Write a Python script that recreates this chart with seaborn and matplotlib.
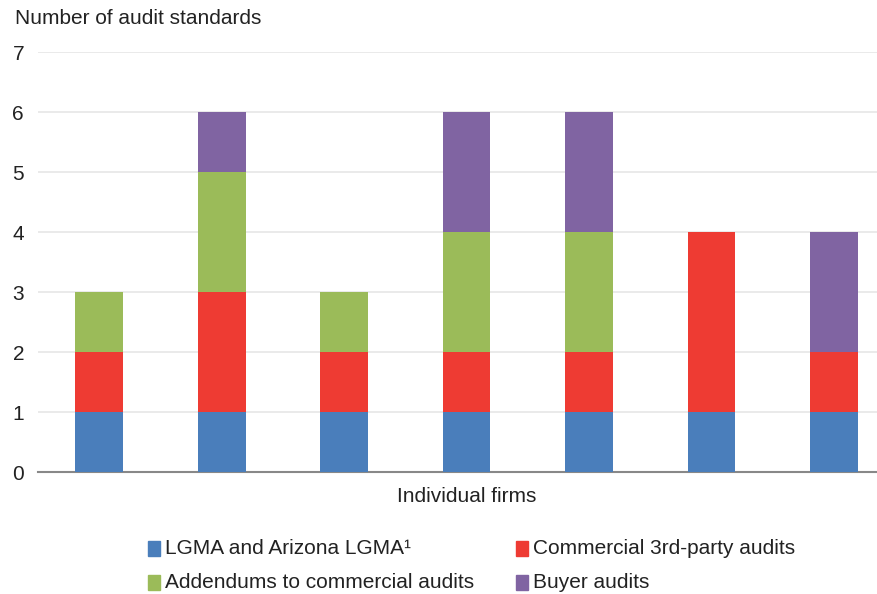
import matplotlib
matplotlib.use("Agg")
import matplotlib.pyplot as plt
import seaborn as sns
import numpy as np
import pandas as pd
from matplotlib.patches import Rectangle

firms = ["Firm 1", "Firm 2", "Firm 3", "Firm 4", "Firm 5", "Firm 6", "Firm 7"]
lgma = [1, 1, 1, 1, 1, 1, 1]
commercial = [1, 2, 1, 1, 1, 3, 1]
addendums = [1, 2, 1, 2, 2, 0, 0]
buyer = [0, 1, 0, 2, 2, 0, 2]
series_names = ["LGMA and Arizona LGMA\u00b9", "Commercial 3rd-party audits",
                "Addendums to commercial audits", "Buyer audits"]
colors = ["#4a7ebb", "#ee3b33", "#9bbb59", "#8064a2"]
yticks = [0, 1, 2, 3, 4, 5, 6, 7]

sns.set_theme(style="white")
plt.rcParams["font.family"] = ["Liberation Sans", "DejaVu Sans"]

FS = 15
TC = "#222222"

fig = plt.figure(figsize=(8.78, 5.94), dpi=100)
ax = fig.add_axes([38/878, 122/594, 1 - 38/878, (472-52)/594])

data = [lgma, commercial, addendums, buyer]
cums = np.cumsum(np.array(data), axis=0)
for i in range(3, -1, -1):
    df = pd.DataFrame({"firm": firms, "val": cums[i]})
    sns.barplot(data=df, x="firm", y="val", color=colors[i], width=0.39,
                saturation=1, ax=ax, zorder=3, linewidth=0)

ax.set_ylim(0, 7)
ax.set_xlim(-0.5, 6.36)
ax.set_yticks(yticks)
ax.set_yticklabels([str(t) for t in yticks], fontsize=FS, color=TC)
ax.set_xticks([])
ax.set_xlabel("")
ax.set_ylabel("")
ax.grid(axis="y", color="#e6e6e6", linewidth=1.2, zorder=0)
for s in ["top", "right", "left"]:
    ax.spines[s].set_visible(False)
ax.spines["bottom"].set_color("#888888")
ax.spines["bottom"].set_linewidth(1.5)
ax.tick_params(axis="y", length=0, pad=10)

fig.text(15/878, 1 - 18/594, "Number of audit standards", fontsize=FS,
         color=TC, va="center", ha="left")
fig.text(467/878, 1 - 497/594, "Individual firms", fontsize=FS,
         color=TC, va="center", ha="center")

pos = [(148, 548), (516, 548), (148, 582), (516, 582)]
for (x, y), name, c in zip(pos, series_names, colors):
    fig.patches.append(Rectangle((x/878, 1 - (y+8)/594), 12/878, 15/594,
                                 transform=fig.transFigure, color=c, figure=fig))
    fig.text((x+17)/878, 1 - y/594, name, fontsize=FS, color=TC,
             va="center", ha="left")

fig.savefig("out.png", dpi=100)
